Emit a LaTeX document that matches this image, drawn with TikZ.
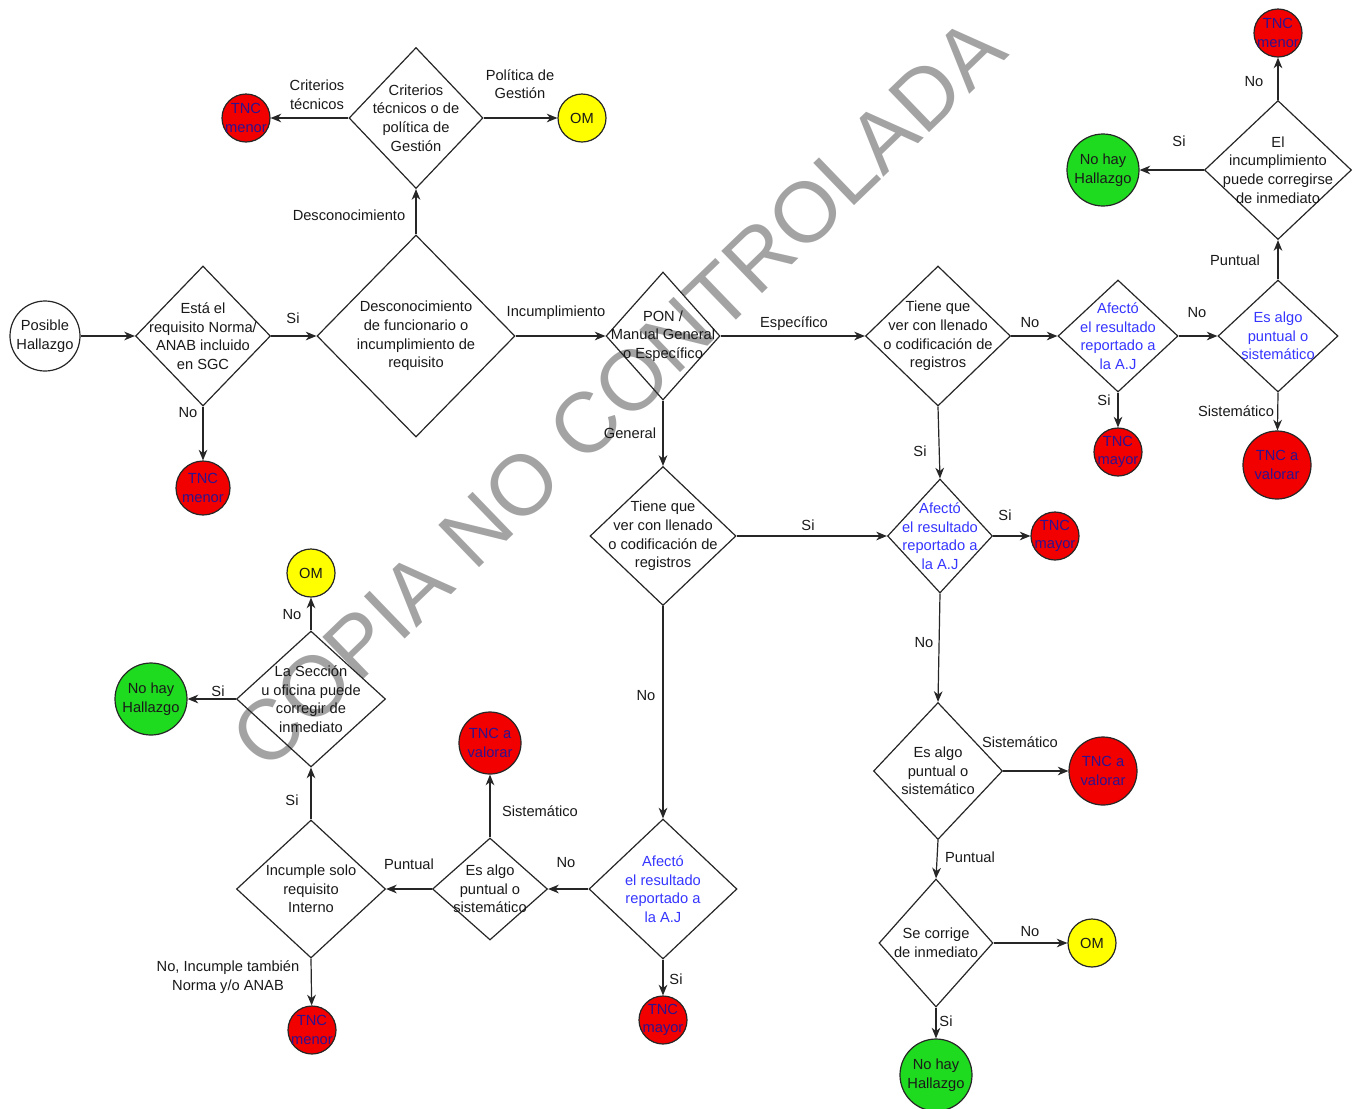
\documentclass[tikz,border=0pt]{standalone}
\usepackage{fontspec}
\setmainfont{Liberation Sans}
\usepackage{xcolor}
\usepackage{tikz}
\usetikzlibrary{arrows.meta,positioning,shapes.geometric}
\definecolor{tncred}{HTML}{F20000}
\definecolor{okgreen}{HTML}{1FDB1F}
\definecolor{omyellow}{HTML}{FFFF00}
\definecolor{ajblue}{HTML}{3535FF}
\definecolor{tnctext}{HTML}{2E1290}
\definecolor{wmgray}{HTML}{A3A3A3}
\definecolor{linegray}{HTML}{262626}

\tikzset{
  base/.style={font=\fontsize{11}{14}\selectfont, align=center, text=black!90},
  dec/.style={base, diamond, draw=linegray, line width=0.9pt, inner sep=-14pt},
  aj/.style={dec, text=ajblue},
  dsize/.style 2 args={minimum width=#1*0.75pt, minimum height=#2*0.75pt},
  endc/.style={base, circle, draw=linegray, line width=0.9pt, inner sep=-12pt, minimum size=#1*1.5pt},
  endc/.default=24,
  tnc/.style={endc=#1, fill=tncred, text=tnctext},
  tnc/.default=24,
  om/.style={endc=24, fill=omyellow},
  nohay/.style={endc=36, fill=okgreen},
  lab/.style={base, inner sep=1pt},
  arr/.style={draw=linegray, line width=0.9pt, -{Stealth[length=8pt, width=6.5pt, inset=2.5pt]}},
  wmark/.style={text=wmgray, font=\fontsize{64}{64}\selectfont, inner sep=0pt}
}

\begin{document}
\begin{tikzpicture}[x=0.75pt, y=-0.75pt]
  \useasboundingbox (0,0) rectangle (1361,1108);
  % watermark goes first so that it sits behind the chart
  \node[wmark, rotate=44] (wm) at (618,393) {COPIA NO CONTROLADA};

  % main line
  \node[endc=35] (ph) at (45,336) {Posible\\Hallazgo};
  \node[dec, dsize={135}{140}] (q1) at (203,336) {Está el\\requisito Norma/\\ANAB incluido\\en SGC};
  \node[tnc=27] (tnc1) at (203,488) {TNC\\menor};
  \node[dec, dsize={198}{202}] (q2) at (416,336) {Desconocimiento\\de funcionario o\\incumplimiento de\\requisito};
  \node[dec, dsize={134}{141}] (q3) at (416,118) {Criterios\\técnicos o de\\política de\\Gestión};
  \node[tnc] (tnc2) at (246,118) {TNC\\menor};
  \node[om] (om1) at (582,118) {OM};
  \node[dec, dsize={114}{128}] (q4) at (663,336) {PON /\\Manual General\\o Específico};

  % specific branch
  \node[dec, dsize={145}{140}] (q5) at (938,336) {Tiene que\\ver con llenado\\o codificación de\\registros};
  \node[aj, dsize={120}{112}] (q7) at (1118,336) {Afectó\\el resultado\\reportado a\\la A.J};
  \node[tnc] (tnc3) at (1118,452) {TNC\\mayor};
  \node[aj, dsize={120}{112}] (q8) at (1278,336) {Es algo\\puntual o\\sistemático};
  \node[tnc=34] (tnc4) at (1277,465) {TNC a\\valorar};
  \node[dec, dsize={147}{139}] (q9) at (1278,170) {El\\incumplimiento\\puede corregirse\\de inmediato};
  \node[tnc] (tnc5) at (1278,33) {TNC\\menor};
  \node[nohay] (ok1) at (1103,170) {No hay\\Hallazgo};

  % general branch
  \node[dec, dsize={146}{139}] (q6) at (663,536) {Tiene que\\ver con llenado\\o codificación de\\registros};
  \node[aj, dsize={105}{114}] (q10) at (940,536) {Afectó\\el resultado\\reportado a\\la A.J};
  \node[tnc] (tnc6) at (1055,536) {TNC\\mayor};
  \node[dec, dsize={129}{137}] (q11) at (938,771) {Es algo\\puntual o\\sistemático};
  \node[tnc=34] (tnc7) at (1103,771) {TNC a\\valorar};
  \node[dec, dsize={114}{128}] (q12) at (936,943) {Se corrige\\de inmediato};
  \node[om] (om2) at (1092,943) {OM};
  \node[nohay] (ok2) at (936,1075) {No hay\\Hallazgo};

  \node[aj, dsize={148}{140}] (q13) at (663,889) {Afectó\\el resultado\\reportado a\\la A.J};
  \node[tnc] (tnc8) at (663,1020) {TNC\\mayor};
  \node[dec, dsize={115}{102}] (q14) at (490,889) {Es algo\\puntual o\\sistemático};
  \node[tnc=31] (tnc9) at (490,743) {TNC a\\valorar};
  \node[dec, dsize={149}{138}] (q15) at (311,889) {Incumple solo\\requisito\\Interno};
  \node[tnc] (tnc10) at (312,1030) {TNC\\menor};
  \node[dec, dsize={149}{136}] (q16) at (311,699) {La Sección\\u oficina puede\\corregir de\\inmediato};
  \node[om] (om3) at (311,573) {OM};
  \node[nohay] (ok3) at (151,699) {No hay\\Hallazgo};

  % connectors
  \draw[arr] (ph) -- (q1);
  \draw[arr] (q1.east) -- (q2.west);
  \draw[arr] (q1.south) -- (tnc1);
  \draw[arr] (q2.north) -- (q3.south);
  \draw[arr] (q3.west) -- (tnc2);
  \draw[arr] (q3.east) -- (om1);
  \draw[arr] (q2.east) -- (q4.west);
  \draw[arr] (q4.east) -- (q5.west);
  \draw[arr] (q4.south) -- (q6.north);
  \draw[arr] (q5.east) -- (q7.west);
  \draw[arr] (q7.east) -- (q8.west);
  \draw[arr] (q7.south) -- (tnc3);
  \draw[arr] (q8.south) -- (tnc4);
  \draw[arr] (q8.north) -- (q9.south);
  \draw[arr] (q9.west) -- (ok1);
  \draw[arr] (q9.north) -- (tnc5);
  \draw[arr] (q5.south) -- (q10.north);
  \draw[arr] (q6.east) -- (q10.west);
  \draw[arr] (q10.east) -- (tnc6);
  \draw[arr] (q10.south) -- (q11.north);
  \draw[arr] (q11.east) -- (tnc7);
  \draw[arr] (q11.south) -- (q12.north);
  \draw[arr] (q12.east) -- (om2);
  \draw[arr] (q12.south) -- (ok2);
  \draw[arr] (q6.south) -- (q13.north);
  \draw[arr] (q13.south) -- (tnc8);
  \draw[arr] (q13.west) -- (q14.east);
  \draw[arr] (q14.north) -- (tnc9);
  \draw[arr] (q14.west) -- (q15.east);
  \draw[arr] (q15.north) -- (q16.south);
  \draw[arr] (q16.west) -- (ok3);
  \draw[arr] (q16.north) -- (om3);
  \draw[arr] (q15.south) -- (tnc10);

  % connector labels
  \node[lab] (l1) at (293,318) {Si};
  \node[lab] (l2) at (188,413) {No};
  \node[lab] (l3) at (349,215) {Desconocimiento};
  \node[lab] (l4) at (317,95) {Criterios\\técnicos};
  \node[lab] (l5) at (520,84) {Política de\\Gestión};
  \node[lab] (l6) at (556,313) {Incumplimiento};
  \node[lab] (l7) at (794,324) {Específico};
  \node[lab] (l8) at (630,433) {General};
  \node[lab] (l9) at (1030,323) {No};
  \node[lab] (l10) at (1197,313) {No};
  \node[lab] (l11) at (1104,400) {Si};
  \node[lab] (l12) at (1236,411) {Sistemático};
  \node[lab] (l13) at (1235,260) {Puntual};
  \node[lab] (l14) at (1179,141) {Si};
  \node[lab] (l15) at (1254,82) {No};
  \node[lab] (l16) at (920,451) {Si};
  \node[lab] (l17) at (808,525) {Si};
  \node[lab] (l18) at (1005,515) {Si};
  \node[lab] (l19) at (924,643) {No};
  \node[lab] (l20) at (1020,742) {Sistemático};
  \node[lab] (l21) at (970,857) {Puntual};
  \node[lab] (l22) at (1030,932) {No};
  \node[lab] (l23) at (946,1021) {Si};
  \node[lab] (l24) at (646,696) {No};
  \node[lab] (l25) at (676,979) {Si};
  \node[lab] (l26) at (566,863) {No};
  \node[lab] (l27) at (540,811) {Sistemático};
  \node[lab] (l28) at (409,864) {Puntual};
  \node[lab] (l29) at (292,800) {Si};
  \node[lab] (l30) at (218,691) {Si};
  \node[lab] (l31) at (292,615) {No};
  \node[lab] (l32) at (228,977) {No, Incumple también\\Norma y/o ANAB};
\end{tikzpicture}
\end{document}
